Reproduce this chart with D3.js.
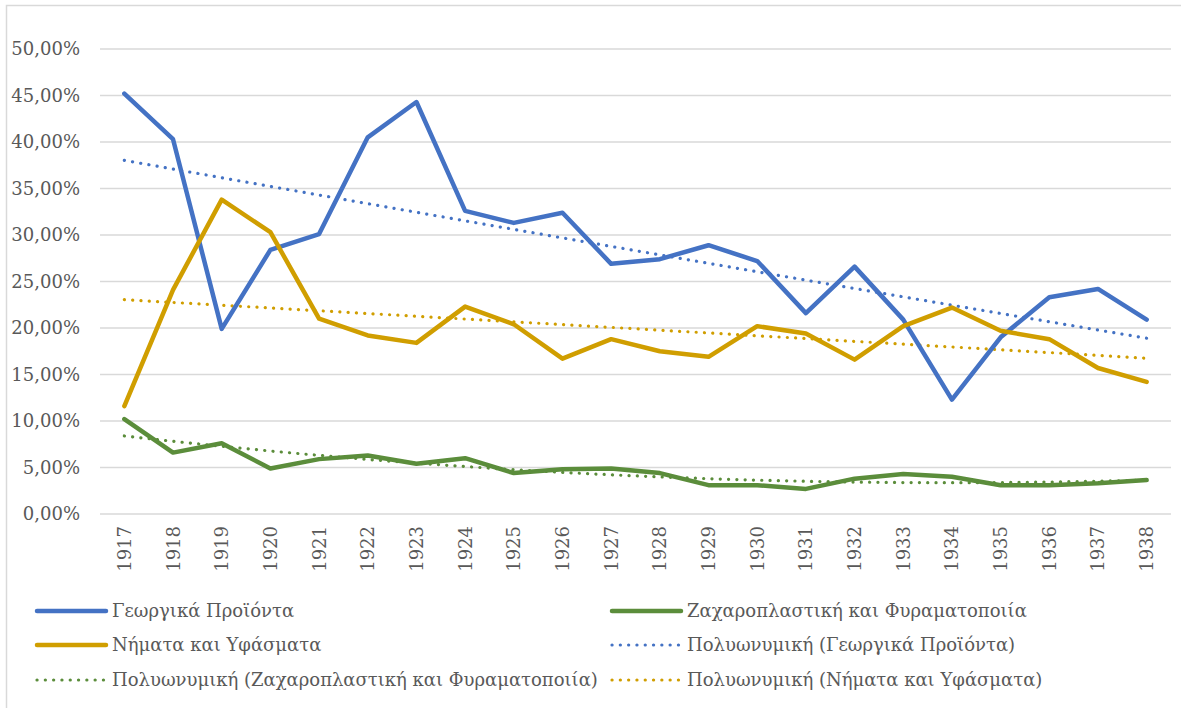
<!DOCTYPE html>
<html>
<head>
<meta charset="utf-8">
<script src="https://cdn.jsdelivr.net/npm/d3@7"></script>
<style>
  body { margin: 0; background: #fff; }
  svg { display: block; }
  text { font-family: "DejaVu Serif", serif; fill: #595959; }
</style>
</head>
<body>
<svg id="chart"></svg>
<script>
const years = [1917, 1918, 1919, 1920, 1921, 1922, 1923, 1924, 1925, 1926, 1927,
  1928, 1929, 1930, 1931, 1932, 1933, 1934, 1935, 1936, 1937, 1938]

// shares in percent
const agri = [45.2, 40.3, 19.9, 28.4, 30.1, 40.5, 44.3, 32.6, 31.3, 32.4, 26.9,
  27.4, 28.9, 27.2, 21.6, 26.6, 20.9, 12.3, 19.0, 23.3, 24.2, 20.9]
const textiles = [11.6, 24.1, 33.8, 30.3, 21.0, 19.2, 18.4, 22.3, 20.4, 16.7, 18.8,
  17.5, 16.9, 20.2, 19.4, 16.6, 20.2, 22.2, 19.7, 18.8, 15.7, 14.2]
const sweets = [10.2, 6.6, 7.6, 4.9, 5.9, 6.3, 5.4, 6.0, 4.4, 4.8, 4.9,
  4.4, 3.1, 3.1, 2.7, 3.8, 4.3, 4.0, 3.1, 3.1, 3.3, 3.65]

const yTicks = [0, 5, 10, 15, 20, 25, 30, 35, 40, 45, 50]

const series = [
  {name: "Γεωργικά Προϊόντα", values: agri, color: "#4472c4"},
  {name: "Ζαχαροπλαστική και Φυραματοποιία", values: sweets, color: "#5b8d3b"},
  {name: "Νήματα και Υφάσματα", values: textiles, color: "#d09e00"}
]

const width = 1181, height = 708
const margin = {left: 100, right: 10, top: 49, bottom: 194}

const svg = d3.select("#chart").attr("width", width).attr("height", height)

// outer chart border
svg.append("rect")
  .attr("x", 6.5).attr("y", 5.5)
  .attr("width", width + 20).attr("height", height + 20)
  .attr("fill", "none").attr("stroke", "#d9d9d9").attr("stroke-width", 1.5)

const x = d3.scaleBand().domain(years).range([margin.left, width - margin.right])
const y = d3.scaleLinear().domain([0, 50]).range([height - margin.bottom, margin.top])
const cx = d => x(d) + x.bandwidth() / 2

// grid
svg.append("g").selectAll("line")
  .data(yTicks)
  .enter().append("line")
  .attr("x1", margin.left).attr("x2", width - margin.right)
  .attr("y1", d => y(d)).attr("y2", d => y(d))
  .attr("stroke", "#d9d9d9").attr("stroke-width", 1.5)

// y labels
svg.append("g").selectAll("text")
  .data(yTicks)
  .enter().append("text")
  .attr("x", 80).attr("y", d => y(d))
  .attr("dy", "0.36em")
  .attr("text-anchor", "end")
  .attr("font-size", 18)
  .text(d => d.toFixed(2).replace(".", ",") + "%")

// x labels
svg.append("g").selectAll("text")
  .data(years)
  .enter().append("text")
  .attr("transform", d => `translate(${cx(d)},526) rotate(-90)`)
  .attr("dy", "0.36em")
  .attr("text-anchor", "end")
  .attr("font-size", 18)
  .text(d => d)

// quadratic least squares fit, like the spreadsheet's polynomial trendline
function polyFit(vals) {
  let s = [0, 0, 0, 0, 0], t = [0, 0, 0]
  vals.forEach((v, i) => {
    const xi = i + 1
    for (let k = 0; k < 5; k++) s[k] += Math.pow(xi, k)
    for (let k = 0; k < 3; k++) t[k] += v * Math.pow(xi, k)
  })
  const A = [[s[0], s[1], s[2], t[0]], [s[1], s[2], s[3], t[1]], [s[2], s[3], s[4], t[2]]]
  for (let i = 0; i < 3; i++) {
    for (let j = i + 1; j < 3; j++) {
      const f = A[j][i] / A[i][i]
      for (let k = i; k < 4; k++) A[j][k] -= f * A[i][k]
    }
  }
  const c = [0, 0, 0]
  for (let i = 2; i >= 0; i--) {
    let sum = A[i][3]
    for (let k = i + 1; k < 3; k++) sum -= A[i][k] * c[k]
    c[i] = sum / A[i][i]
  }
  return vals.map((v, i) => c[0] + c[1] * (i + 1) + c[2] * (i + 1) * (i + 1))
}

const line = d3.line()
  .x((d, i) => cx(years[i]))
  .y(d => y(d))

const dotted = svg.append("g")
const solid = svg.append("g")

series.forEach(s => {
  dotted.append("path")
    .attr("d", line(polyFit(s.values)))
    .attr("fill", "none")
    .attr("stroke", s.color)
    .attr("stroke-width", 3.2)
    .attr("stroke-linecap", "round")
    .attr("stroke-dasharray", "0.1 8.2")
})

series.forEach(s => {
  solid.append("path")
    .attr("d", line(s.values))
    .attr("fill", "none")
    .attr("stroke", s.color)
    .attr("stroke-width", 4.5)
    .attr("stroke-linejoin", "round")
    .attr("stroke-linecap", "round")
})

// legend
const legendItems = [
  {name: "Γεωργικά Προϊόντα", color: "#4472c4", dot: false, col: 0, row: 0},
  {name: "Ζαχαροπλαστική και Φυραματοποιία", color: "#5b8d3b", dot: false, col: 1, row: 0},
  {name: "Νήματα και Υφάσματα", color: "#d09e00", dot: false, col: 0, row: 1},
  {name: "Πολυωνυμική (Γεωργικά Προϊόντα)", color: "#4472c4", dot: true, col: 1, row: 1},
  {name: "Πολυωνυμική (Ζαχαροπλαστική και Φυραματοποιία)", color: "#5b8d3b", dot: true, col: 0, row: 2},
  {name: "Πολυωνυμική (Νήματα και Υφάσματα)", color: "#d09e00", dot: true, col: 1, row: 2}
]
const colX = [37, 612], rowY = [611, 645, 680]

const leg = svg.append("g").selectAll("g")
  .data(legendItems)
  .enter().append("g")
  .attr("transform", d => `translate(${colX[d.col]},${rowY[d.row]})`)

leg.append("line")
  .attr("x1", 0).attr("x2", 69)
  .attr("stroke", d => d.color)
  .attr("stroke-width", d => d.dot ? 3.2 : 4.5)
  .attr("stroke-linecap", "round")
  .attr("stroke-dasharray", d => d.dot ? "0.1 8.2" : null)

leg.append("text")
  .attr("x", 75)
  .attr("dy", "0.36em")
  .attr("font-size", 18)
  .text(d => d.name)
</script>
</body>
</html>
